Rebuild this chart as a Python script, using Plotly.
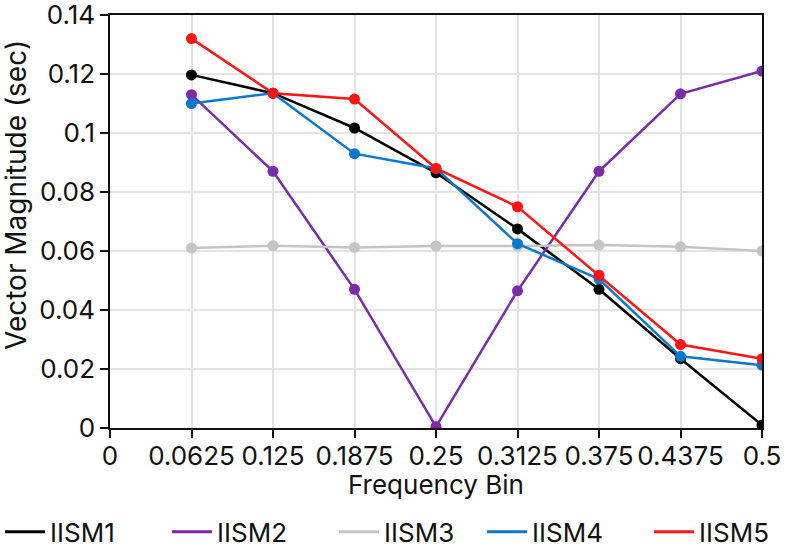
import plotly.graph_objects as go

freq = [0.0625, 0.125, 0.1875, 0.25, 0.3125, 0.375, 0.4375, 0.5]
x_ticks = [0, 0.0625, 0.125, 0.1875, 0.25, 0.3125, 0.375, 0.4375, 0.5]
x_ticktext = ["0", "0.0625", "0.125", "0.1875", "0.25", "0.3125", "0.375", "0.4375", "0.5"]
y_ticks = [0, 0.02, 0.04, 0.06, 0.08, 0.1, 0.12, 0.14]

iism1 = [0.1197, 0.1135, 0.1017, 0.0865, 0.0675, 0.0470, 0.0235, 0.0010]
iism2 = [0.1130, 0.0870, 0.0470, 0.0005, 0.0465, 0.0870, 0.1133, 0.1210]
iism3 = [0.0610, 0.0618, 0.0612, 0.0617, 0.0617, 0.0620, 0.0614, 0.0600]
iism4 = [0.1100, 0.1135, 0.0930, 0.0880, 0.0625, 0.0505, 0.0243, 0.0213]
iism5 = [0.1320, 0.1135, 0.1115, 0.0880, 0.0750, 0.0518, 0.0283, 0.0235]

names = ["IISM1", "IISM2", "IISM3", "IISM4", "IISM5"]
series = [iism1, iism2, iism3, iism4, iism5]
colors = ["#000000", "#7b2aa8", "#c4c4c4", "#0a78cc", "#ff1414"]
legend_groups = ["legend", "legend", "legend", "legend2", "legend2"]

fig = go.Figure()
for n, s, c in zip(names, series, colors):
    fig.add_trace(go.Scatter(
        x=freq, y=s, name=n, mode="lines+markers", showlegend=False,
        line=dict(color=c, width=2.5),
        marker=dict(color=c, size=11),
    ))
# legend entries (line only, as in the reference)
for n, c, lg in zip(names, colors, legend_groups):
    fig.add_trace(go.Scatter(
        x=[None], y=[None], name=n, mode="lines", legend=lg,
        line=dict(color=c, width=3.2), showlegend=True,
    ))

font_family = "Inter, Roboto, sans-serif"
FS = 26
leg_common = dict(
    orientation="h", xref="container", yref="container",
    y=0.033, xanchor="left", yanchor="middle",
    entrywidth=112, entrywidthmode="pixels",
    font=dict(size=FS), itemwidth=40,
    bgcolor="rgba(0,0,0,0)",
)
fig.update_layout(
    width=786, height=550,
    margin=dict(l=110, r=24, t=15, b=122, autoexpand=False),
    plot_bgcolor="white", paper_bgcolor="white",
    font=dict(family=font_family, size=FS, color="#111111"),
    showlegend=True,
    legend=dict(x=0.0, **leg_common),
    legend2=dict(x=482 / 786, **leg_common),
    xaxis=dict(
        range=[0, 0.5], tickvals=x_ticks, ticktext=x_ticktext, tickangle=0,
        showgrid=True, gridcolor="#e3e3e3", gridwidth=1.5,
        showline=True, linecolor="#111111", linewidth=1.5, mirror=True,
        ticks="outside", ticklen=8, tickwidth=1.5, tickcolor="#111111",
        ticklabeloverflow="allow", ticklabelstandoff=-4,
        zeroline=False,
    ),
    yaxis=dict(
        range=[0, 0.14], tickvals=y_ticks,
        showgrid=True, gridcolor="#e3e3e3", gridwidth=1.5,
        showline=True, linecolor="#111111", linewidth=1.5, mirror=True,
        ticks="outside", ticklen=8, tickwidth=1.5, tickcolor="#111111",
        ticklabeloverflow="allow",
        zeroline=False,
    ),
    annotations=[
        dict(text="Frequency Bin", xref="paper", yref="paper",
             x=0.5, y=(428 - 485) / 413, xanchor="center", yanchor="middle",
             showarrow=False, font=dict(size=FS)),
        dict(text="Vector Magnitude (sec)", xref="paper", yref="paper",
             x=(16 - 110) / 652, y=(428 - 195) / 413, xanchor="center", yanchor="middle",
             textangle=-90, showarrow=False, font=dict(size=28)),
    ],
)

fig.write_html("out.html")
